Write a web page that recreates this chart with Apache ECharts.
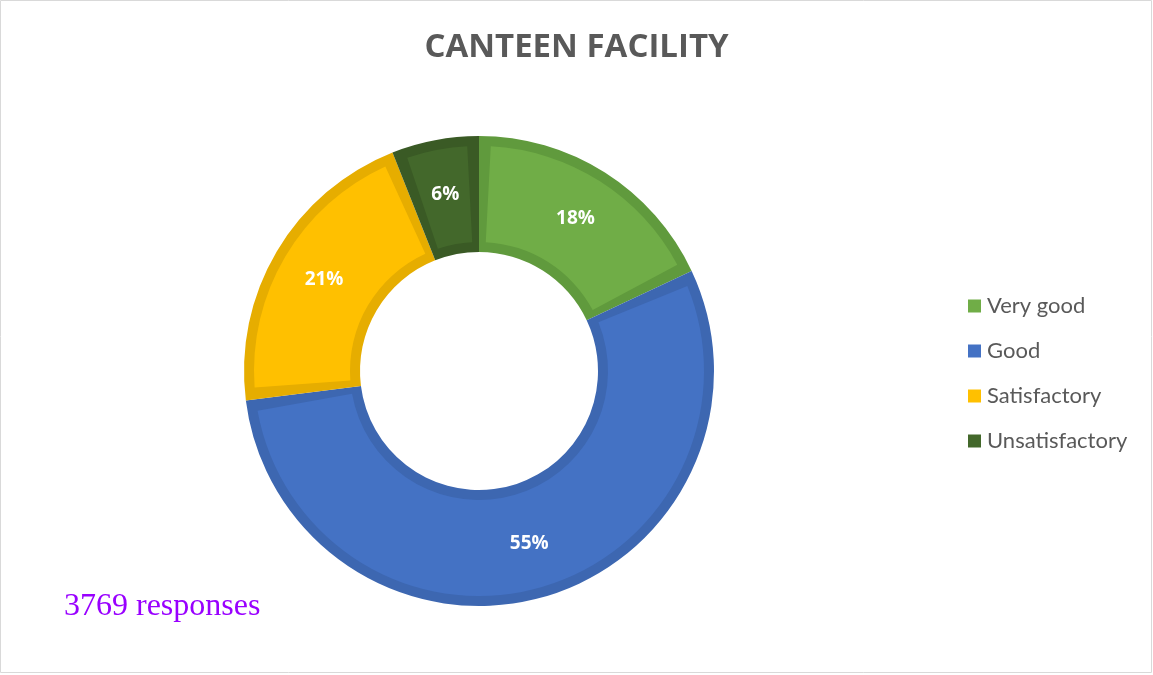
<!DOCTYPE html>
<html>
<head>
<meta charset="utf-8">
<script src="https://cdn.jsdelivr.net/npm/echarts@6/dist/echarts.min.js"></script>
<style>
  html,body{margin:0;padding:0;background:#fff}
  #main{width:1153px;height:675px}
</style>
</head>
<body>
<div id="main"></div>
<script>
const categories=['Very good','Good','Satisfactory','Unsatisfactory']
const values=[18,55,21,6]
const fillColors=['#70ad47','#4472c4','#ffc000','#43682b']
const edgeColors=['#609a3d','#3d67b1','#e6ad00','#3a5a25']

const myChart=echarts.init(document.querySelector('#main'))
const option={
  animation:false,
  title:{
    text:'CANTEEN FACILITY',
    left:'center',
    top:26,
    textStyle:{fontFamily:'Open Sans',fontWeight:'bold',fontSize:33,color:'#595959'}
  },
  legend:{
    orient:'vertical',
    left:963,
    top:290,
    itemWidth:13,
    itemHeight:13,
    itemGap:23,
    icon:'rect',
    data:categories,
    textStyle:{fontFamily:'Lato',fontSize:22,color:'#595959',padding:[0,0,0,1]}
  },
  graphic:[
    {type:'rect',shape:{x:0.5,y:0.5,width:1151,height:672},style:{fill:'none',stroke:'#d9d9d9',lineWidth:1},z:0},
    {type:'text',left:64,top:591,style:{text:'3769 responses',fill:'#9900ff',font:'32px "Liberation Serif"'}}
  ],
  series:[
    {
      // light inner part, gaps show the darker edge series below
      type:'pie',
      z:3,
      center:[479,371],
      radius:[129,225],
      startAngle:90,
      padAngle:6,
      label:{show:true,position:'inside',color:'#fff',fontFamily:'Open Sans',fontWeight:'bold',fontSize:19,formatter:'{c}%'},
      labelLine:{show:false},
      emphasis:{disabled:true},
      data:categories.map((name,i)=>({name,value:values[i],itemStyle:{color:fillColors[i]}}))
    },
    {
      type:'pie',
      z:2,
      center:[479,371],
      radius:[119,235],
      startAngle:90,
      label:{show:false},
      labelLine:{show:false},
      emphasis:{disabled:true},
      data:categories.map((name,i)=>({name,value:values[i],itemStyle:{color:edgeColors[i]}}))
    }
  ]
}
myChart.setOption(option)
</script>
</body>
</html>
